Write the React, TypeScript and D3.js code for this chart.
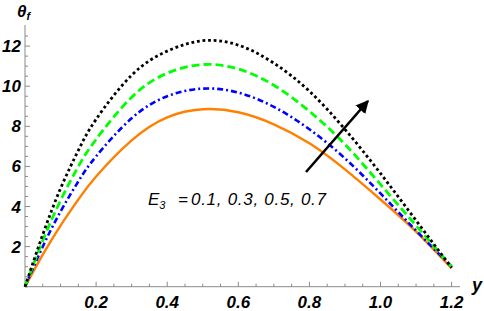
import React from "react";
import * as d3 from "d3";

const xGrid = [0, 0.05, 0.1, 0.15, 0.2, 0.3, 0.4, 0.5, 0.6, 0.7, 0.8, 0.9, 1.0, 1.1, 1.2];
const e3Labels = ["0.1", "0.3", "0.5", "0.7"];
const seriesE01 = [0, 1.6, 3.05, 4.35, 5.5, 7.3, 8.45, 8.85, 8.7, 8.1, 7.15, 5.85, 4.35, 2.75, 0.92];
const seriesE03 = [0, 2.0, 3.75, 5.25, 6.5, 8.4, 9.5, 9.88, 9.68, 8.97, 7.85, 6.4, 4.65, 2.8, 1.0];
const seriesE05 = [0, 2.3, 4.3, 6.0, 7.35, 9.45, 10.65, 11.08, 10.86, 10.05, 8.75, 7.1, 5.1, 3.05, 1.0];
const seriesE07 = [0, 2.6, 4.9, 6.8, 8.35, 10.55, 11.75, 12.27, 12.05, 11.15, 9.75, 7.85, 5.65, 3.3, 0.95];
const xTickLabels = ["0.2", "0.4", "0.6", "0.8", "1.0", "1.2"];
const yTickLabels = ["2", "4", "6", "8", "10", "12"];

export default function App() {
  const W = 484, H = 311;
  const x = d3.scaleLinear().domain([0, 1.2]).range([25, 451.6]);
  const y = d3.scaleLinear().domain([0, 12]).range([286.7, 46.1]);
  const line = d3
    .line<number>()
    .x((_, i) => x(xGrid[i]))
    .y((d) => y(d))
    .curve(d3.curveNatural);

  const series = [
    { data: seriesE01, color: "#ff8000", dash: "none", w: 2.4 },
    { data: seriesE03, color: "#0000ff", dash: "6 3 2 3", w: 2.6 },
    { data: seriesE05, color: "#00ff00", dash: "8 4", w: 2.8 },
    { data: seriesE07, color: "#000000", dash: "2.8 2.8", w: 2.8 },
  ];

  const xMinor = d3.range(0, 1.2001, 0.05);
  const yMinor = d3.range(0, 12.9, 0.5);
  const axisColor = "#8a8a8a";
  const labelFont = "'Liberation Sans', Arial, sans-serif";

  return (
    <svg width={W} height={H} style={{ position: "absolute", left: 0, top: 0, background: "#fff" }}>
      <line x1={x(0)} x2={460} y1={y(0)} y2={y(0)} stroke={axisColor} strokeWidth={1} />
      <line x1={x(0)} x2={x(0)} y1={y(0)} y2={25} stroke={axisColor} strokeWidth={1} />
      {xMinor.map((t, i) => {
        const major = i % 4 === 0 && i > 0;
        return (
          <line key={"xt" + i} x1={x(t)} x2={x(t)} y1={y(0)} y2={y(0) - (major ? 5 : 3)} stroke={axisColor} strokeWidth={1} />
        );
      })}
      {yMinor.map((t, i) => {
        const major = i % 4 === 0 && i > 0;
        return (
          <line key={"yt" + i} x1={x(0)} x2={x(0) + (major ? 5 : 3)} y1={y(t)} y2={y(t)} stroke={axisColor} strokeWidth={1} />
        );
      })}
      {xTickLabels.map((s) => (
        <text key={"xl" + s} x={x(+s)} y={308} textAnchor="middle" fontFamily={labelFont} fontWeight="bold" fontStyle="italic" fontSize={17} fill="#000">
          {s}
        </text>
      ))}
      {yTickLabels.map((s) => (
        <text key={"yl" + s} x={21} y={y(+s) + 6} textAnchor="end" fontFamily={labelFont} fontWeight="bold" fontStyle="italic" fontSize={17} fill="#000">
          {s}
        </text>
      ))}
      <text x={17} y={17} fontFamily={labelFont} fontWeight="bold" fontStyle="italic" fontSize={17} fill="#000">
        θ
        <tspan fontSize={11} dy={3}>f</tspan>
      </text>
      <text x={472} y={291} fontFamily={labelFont} fontWeight="bold" fontStyle="italic" fontSize={18} fill="#000">
        y
      </text>

      {series.map((s, i) => (
        <path key={"s" + i} d={line(s.data) || ""} fill="none" stroke={s.color} strokeWidth={s.w} strokeDasharray={s.dash} />
      ))}

      <defs>
        <marker id="ah" viewBox="0 0 10 10" refX="9" refY="5" markerWidth="5" markerHeight="5" orient="auto" markerUnits="strokeWidth">
          <path d="M0,0 L10,5 L0,10 z" fill="#000" />
        </marker>
      </defs>
      <line x1={306} y1={172} x2={368} y2={101} stroke="#000" strokeWidth={2.6} markerEnd="url(#ah)" />

      <text x={148} y={205} fontFamily={labelFont} fontStyle="italic" fontSize={17} fill="#000">
        E<tspan fontSize={11} dy={4}>3</tspan>
      </text>
      <text x={178} y={205} fontFamily={labelFont} fontStyle="italic" fontSize={17} fill="#000">=</text>
      <text x={191} y={205} fontFamily={labelFont} fontStyle="italic" fontSize={17} fill="#000" textLength={135} lengthAdjust="spacing">
        {e3Labels.join(", ")}
      </text>
    </svg>
  );
}
